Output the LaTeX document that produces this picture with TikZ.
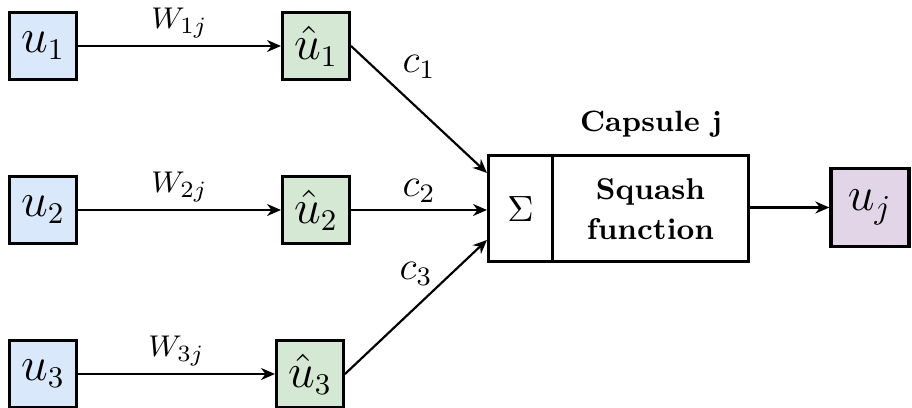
\documentclass[tikz,border=0pt]{standalone}
\usepackage{amsmath}
\usetikzlibrary{positioning,arrows.meta}
\definecolor{inblue}{HTML}{DAE8FC}
\definecolor{predgreen}{HTML}{D5E8D4}
\definecolor{outpurple}{HTML}{E1D5E7}

\begin{document}
\begin{tikzpicture}[
  x=0.3pt, y=-0.3pt, >={Stealth[length=4.2pt, width=3.6pt]},
  vec/.style={rectangle, draw=black, line width=1pt, minimum width=20pt, minimum height=20pt,
    inner sep=0pt, font=\fontsize{13.5}{15}\selectfont},
  caps/.style={rectangle, draw=black, line width=0.9pt, minimum height=31.8pt, inner sep=0pt, align=center},
  lbl/.style={font=\fontsize{11.5}{13}\selectfont, inner sep=1pt},
  wlbl/.style={font=\fontsize{9.5}{11}\selectfont, inner sep=1pt},
  conn/.style={->, line width=0.65pt}
]
\useasboundingbox (0,0) rectangle (912,408);
% input capsules
\node[vec, fill=inblue] (u1) at (43,46) {$u_1$};
\node[vec, fill=inblue] (u2) at (43,210) {$u_2$};
\node[vec, fill=inblue] (u3) at (43,374) {$u_3$};
% predictions
\node[vec, fill=predgreen] (hu1) at (316,46) {$\hat{u}_1$};
\node[vec, fill=predgreen] (hu2) at (316,210) {$\hat{u}_2$};
\node[vec, fill=predgreen] (hu3) at (310,374) {$\hat{u}_3$};
% capsule j
\node[caps, minimum width=19.2pt, font=\fontsize{11}{13}\selectfont] (sum) at (520.5,209) {$\Sigma$};
\node[caps, minimum width=58.8pt, font=\fontsize{9}{12}\selectfont\bfseries] (sq) at (650.5,209) {Squash\\function};
\node[font=\fontsize{8.8}{10}\selectfont\bfseries, inner sep=0pt] (title) at (651,124) {Capsule j};
\node[vec, fill=outpurple, minimum width=23.4pt, minimum height=23.4pt, font=\fontsize{14}{16}\selectfont] (uj) at (870,207.5) {$u_j$};
% connectors
\draw[conn] (u1)--node[wlbl, above=1pt]{$W_{1j}$} (hu1);
\draw[conn] (u2)--node[wlbl, above=1pt]{$W_{2j}$} (hu2);
\draw[conn] (u3)--node[wlbl, above=1pt]{$W_{3j}$} (hu3);
\draw[conn] (hu1.east)--node[lbl, above=8pt]{$c_1$} ([yshift=10.8pt]sum.west);
\draw[conn] (hu2)--node[lbl, above=1pt]{$c_2$} (sum.west |- hu2);
\draw[conn] (hu3.east)--node[lbl, above=5pt]{$c_3$} ([yshift=-9.3pt]sum.west);
\draw[conn] (sq.east |- uj)--(uj);
\end{tikzpicture}
\end{document}
